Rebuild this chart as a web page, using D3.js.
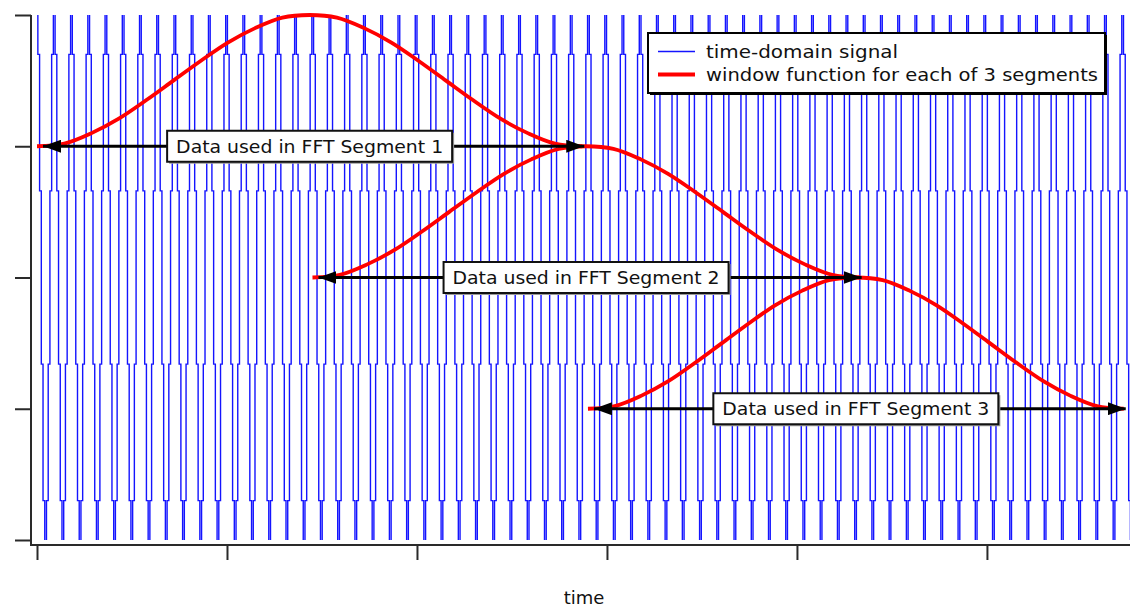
<!DOCTYPE html>
<html>
<head>
<meta charset="utf-8">
<script src="https://cdn.jsdelivr.net/npm/d3@7"></script>
<style>
  html, body { margin: 0; padding: 0; background: #fff; }
  svg { display: block; }
  text { font-family: "DejaVu Sans", "Liberation Sans", sans-serif; fill: #111; }
</style>
</head>
<body>
<svg id="chart" width="1130" height="607"></svg>
<script>
// Sampled tone (ms axis) with three overlapping 50%-hop Hann windows.
const sampleRate = 11025;                       // samples per second
const signalLevels = [1.05, 0.85, 0.33, -0.33, -0.85, -1.05];
// one code per sample, indexing signalLevels
const signalCodes = [
  "01234543210123454321012345432101234543210123454321",
  "01234543210123454321012345432101234543210123454321",
  "01234543210123454321012345432101234543210123454321",
  "01234543210123454321012345432101234543210123454321",
  "01234543210123454321012345432101234543210123454321",
  "01234543210123454321012345432101234543210123454321",
  "01234543210123454321012345432101234543210123454321",
  "01234543210123454321012345432101234543210123454321",
  "01234543210123454321012345432101234543210123454321",
  "01234543210123454321012345432101234543210123454321",
  "01234543210123454321012345432101234543210123454321",
  "01234543210123454321012345432101234543210123454321",
  "01234543210123454321012345432101234543210123454321",
  "0"
].join("");

const xTicks = [0, 10, 20, 30, 40, 50];          // ms
const yTicks = [-1, -0.5, 0, 0.5, 1];

const segStart = [0, 14.5, 29.0];                // ms
const segEnd   = [28.7, 43.3, 57.2];             // ms
const segBase  = [0.5, 0, -0.5];                 // vertical offset of each window
const segHeight = 0.5;
const windowShape = [0, 0.02, 0.10, 0.21, 0.35, 0.50, 0.65, 0.79, 0.90, 0.98, 1.00,
                     0.98, 0.90, 0.79, 0.65, 0.50, 0.35, 0.21, 0.10, 0.02, 0];
const segLabels = ["Data used in FFT Segment 1", "Data used in FFT Segment 2", "Data used in FFT Segment 3"];
const legendLabels = ["time-domain signal", "window function for each of 3 segments"];
const xTitle = "time";

const svg = d3.select("#chart");
const x = d3.scaleLinear().domain([0, 57.53]).range([37, 1130]);
const y = d3.scaleLinear().domain([-1, 1]).range([540, 15]);

const axisColor = "#2a2a2a";

svg.append("clipPath").attr("id", "plotClip")
  .append("rect").attr("x", 31).attr("y", 15).attr("width", 1099).attr("height", 525);

// time-domain signal, drawn sample-and-hold style
const signal = Array.from(signalCodes, (c, i) => ({ t: i * 1000 / sampleRate, v: signalLevels[+c] }));
svg.append("path")
  .datum(signal)
  .attr("clip-path", "url(#plotClip)")
  .attr("fill", "none")
  .attr("stroke", "#1414ff")
  .attr("stroke-width", 1.4)
  .attr("d", d3.line().curve(d3.curveStep).x(d => x(d.t)).y(d => y(d.v)));

// window functions
const windowLine = d3.line().curve(d3.curveCatmullRom).x(d => x(d.t)).y(d => y(d.v));
segStart.forEach((s, k) => {
  const pts = windowShape.map((w, j) => ({
    t: s + (segEnd[k] - s) * j / (windowShape.length - 1),
    v: segBase[k] + segHeight * w
  }));
  svg.append("path").datum(pts)
    .attr("fill", "none").attr("stroke", "#ff0000")
    .attr("stroke-width", 3.8).attr("stroke-linejoin", "round")
    .attr("d", windowLine);
});

// arrow markers
const defs = svg.append("defs");
defs.append("marker")
  .attr("id", "head").attr("markerUnits", "userSpaceOnUse")
  .attr("viewBox", "0 0 18 13").attr("refX", 18).attr("refY", 6.5)
  .attr("markerWidth", 18).attr("markerHeight", 13)
  .attr("orient", "auto-start-reverse")
  .append("path").attr("d", "M0,0 L18,6.5 L0,13 Z").attr("fill", "#000");

segStart.forEach((s, k) => {
  const yy = y(segBase[k]);
  svg.append("line")
    .attr("x1", x(s) + 6).attr("x2", x(segEnd[k]) + 2)
    .attr("y1", yy).attr("y2", yy)
    .attr("stroke", "#000").attr("stroke-width", 3)
    .attr("marker-start", "url(#head)").attr("marker-end", "url(#head)");

  const cx = (x(s) + x(segEnd[k])) / 2;
  const bw = 285, bh = 31;
  svg.append("rect").attr("x", cx - bw / 2 + 2).attr("y", yy - bh / 2 + 2)
    .attr("width", bw).attr("height", bh).attr("fill", "#9a9a9a");
  svg.append("rect").attr("x", cx - bw / 2).attr("y", yy - bh / 2)
    .attr("width", bw).attr("height", bh)
    .attr("fill", "#fff").attr("stroke", "#111").attr("stroke-width", 2);
  svg.append("text").attr("x", cx).attr("y", yy + 6.5)
    .attr("text-anchor", "middle").attr("font-size", 18)
    .attr("textLength", 267).attr("lengthAdjust", "spacingAndGlyphs")
    .text(segLabels[k]);
});

// axes
const yAxis = d3.axisLeft(y).tickValues(yTicks).tickFormat("").tickSize(16).tickSizeOuter(0);
const gy = svg.append("g").attr("transform", "translate(31,0)").call(yAxis);
const xAxis = d3.axisBottom(x).tickValues(xTicks).tickFormat("").tickSize(15).tickSizeOuter(0);
const gx = svg.append("g").attr("transform", "translate(0,545)").call(xAxis);
[gx, gy].forEach(g => {
  g.select(".domain").remove();
  g.selectAll(".tick line").attr("stroke", axisColor).attr("stroke-width", 2);
});
svg.append("path")
  .attr("d", "M31,15 L31,545 L1130,545")
  .attr("fill", "none").attr("stroke", axisColor).attr("stroke-width", 2);

svg.append("text").attr("x", 584).attr("y", 604)
  .attr("text-anchor", "middle").attr("font-size", 18).text(xTitle);

// legend
const lg = svg.append("g").attr("transform", "translate(648,33)");
lg.append("rect").attr("x", 2).attr("y", 2).attr("width", 457).attr("height", 60).attr("fill", "#000");
lg.append("rect").attr("width", 457).attr("height", 60)
  .attr("fill", "#fff").attr("stroke", "#000").attr("stroke-width", 2);
const legendColors = ["#1414ff", "#ff0000"];
const legendWidths = [1.6, 3.8];
const legendTextLen = [192, 392];
legendLabels.forEach((lab, i) => {
  const ly = 18.5 + i * 23;
  lg.append("line").attr("x1", 10).attr("x2", 47).attr("y1", ly).attr("y2", ly)
    .attr("stroke", legendColors[i]).attr("stroke-width", legendWidths[i]);
  lg.append("text").attr("x", 58).attr("y", ly + 6)
    .attr("font-size", 18)
    .attr("textLength", legendTextLen[i]).attr("lengthAdjust", "spacingAndGlyphs")
    .text(lab);
});
</script>
</body>
</html>
